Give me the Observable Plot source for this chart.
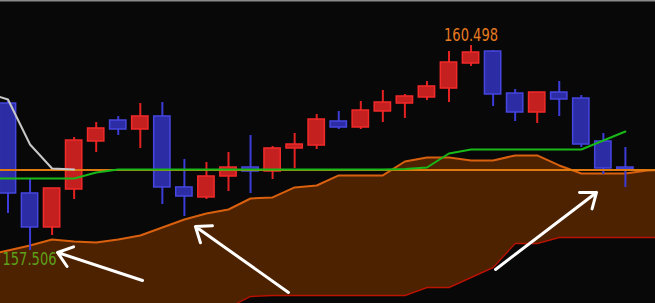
<!DOCTYPE html>
<html><head><meta charset="utf-8">
<script src="https://cdn.jsdelivr.net/npm/d3@7"></script>
<script src="https://cdn.jsdelivr.net/npm/@observablehq/plot@0.6"></script>
<style>html,body{margin:0;padding:0;background:#080808;overflow:hidden}</style>
</head><body><div id="chart"></div>
<script>
// Candles (periods 0..28)
const opens  = [159.651,158.338,157.842,158.396,159.097,159.403,159.272,159.462,158.426,158.280,158.586,158.717,158.659,158.995,159.038,159.389,159.301,159.535,159.651,159.739,159.870,160.235,160.410,159.797,159.520,159.812,159.724,159.097,158.717];
const highs  = [159.695,158.557,158.411,159.155,159.374,159.462,159.651,159.666,158.834,158.790,158.936,159.184,159.024,159.214,159.491,159.535,159.681,159.841,159.783,159.973,160.410,160.498,160.425,159.856,159.812,159.973,159.768,159.214,159.009];
const lows   = [158.046,157.506,157.725,158.250,158.936,159.184,158.995,158.177,158.002,158.250,158.367,158.338,158.542,158.703,158.980,159.272,159.272,159.374,159.433,159.695,159.666,160.192,159.608,159.389,159.360,159.462,159.009,158.615,158.426];
const closes = [158.338,157.842,158.411,159.111,159.287,159.272,159.462,158.426,158.294,158.586,158.717,158.659,158.995,159.053,159.418,159.301,159.549,159.666,159.754,159.900,160.250,160.396,159.783,159.520,159.812,159.710,159.053,158.703,158.688];

// Cloud (periods -1..30)
const cloudPeriods = [-1,0,1,2,3,4,5,6,7,8,9,10,11,12,13,14,15,16,17,18,19,20,21,22,23,24,25,26,27,28,29,30];
const senkouA = [157.433,157.506,157.579,157.667,157.637,157.623,157.667,157.725,157.842,157.958,158.046,158.104,158.265,158.280,158.426,158.455,158.601,158.601,158.601,158.805,158.863,158.863,158.820,158.820,158.893,158.893,158.747,158.630,158.630,158.630,158.674,158.688];
const senkouB = [156.550,156.550,156.550,156.550,156.550,156.550,156.550,156.550,156.550,156.550,156.550,156.674,156.835,156.849,156.849,156.849,156.849,156.849,156.849,156.849,156.966,156.966,157.112,157.258,157.608,157.608,157.696,157.696,157.696,157.696,157.696,157.696];

// Tenkan (green), periods -1..28
const tenkanPeriods = [-1,0,1,2,3,4,5,6,7,8,9,10,11,12,13,14,15,16,17,18,19,20,21,22,23,24,25,26,27,28];
const tenkan = [158.557,158.557,158.557,158.557,158.557,158.644,158.688,158.688,158.688,158.688,158.688,158.688,158.688,158.688,158.688,158.688,158.688,158.688,158.688,158.696,158.717,158.922,158.980,158.980,158.980,158.980,158.980,158.980,159.111,159.243];

// Kijun (orange, flat level)
const kijun = 158.681;

// Chikou (grey), periods -1..3
const chikouPeriods = [-1,0,1,2,3];
const chikou = [159.812,159.710,159.053,158.703,158.688];

// Annotation arrows (period, price)
const arrowFromX = [6.10, 12.72, 22.11];
const arrowFromY = [157.068, 156.893, 157.229];
const arrowToX   = [2.245, 8.50, 26.69];
const arrowToY   = [157.477, 157.856, 158.353];

const candles = opens.map((o, i) => ({i, open: o, high: highs[i], low: lows[i], close: closes[i], down: closes[i] < o}));
const cloud = cloudPeriods.map((p, k) => ({p, a: senkouA[k], b: senkouB[k]}));
const tk = tenkanPeriods.map((p, k) => ({p, v: tenkan[k]}));
const ck = chikouPeriods.map((p, k) => ({p, v: chikou[k]}));
const arrows = arrowFromX.map((x, k) => ({x1: x, y1: arrowFromY[k], x2: arrowToX[k], y2: arrowToY[k]}));
const hiI = d3.maxIndex(highs), loI = d3.minIndex(lows);
const labelFont = "'Liberation Sans Narrow','Arial Narrow','DejaVu Sans Condensed',sans-serif";

const chart = Plot.plot({
  width: 655, height: 303, margin: 0,
  x: {type: "linear", domain: [-0.34, 29.365], axis: null},
  y: {domain: [156.732, 161.155], axis: null},
  style: {background: "#080808", overflow: "hidden"},
  marks: [
    Plot.areaY(cloud, {x: "p", y1: "b", y2: "a", fill: "#4d2200", clip: true}),
    Plot.lineY(cloud, {x: "p", y: "b", stroke: "#b81400", strokeWidth: 1.5, clip: true}),
    Plot.lineY(cloud, {x: "p", y: "a", stroke: "#d8600e", strokeWidth: 2, clip: true}),
    Plot.ruleX(candles, {x: "i", y1: "low", y2: "high", stroke: d => d.down ? "#3c3cd8" : "#e52222", strokeWidth: 2}),
    Plot.rect(candles, {x1: d => d.i - 0.37, x2: d => d.i + 0.37, y1: "open", y2: "close",
      fill: d => d.down ? "#2c2ca4" : "#c42020", stroke: d => d.down ? "#4646e0" : "#f22a2a", strokeWidth: 1.5}),
    Plot.ruleY([kijun], {stroke: "#e07a10", strokeWidth: 2}),
    Plot.lineY(tk, {x: "p", y: "v", stroke: "#19b819", strokeWidth: 2, clip: true}),
    Plot.lineY(ck, {x: "p", y: "v", stroke: "#c8c8c8", strokeWidth: 2, clip: true}),
    Plot.arrow(arrows, {x1: "x1", y1: "y1", x2: "x2", y2: "y2", stroke: "white", strokeWidth: 3, headLength: 8.5, headAngle: 75}),
    Plot.text([{i: hiI, v: highs[hiI]}], {x: "i", y: "v", text: d => d.v.toFixed(3), dy: -10, fill: "#e87a20",
      fontSize: 18, fontFamily: labelFont, lineAnchor: "middle", textAnchor: "middle", className: "pricelabel"}),
    Plot.text([{v: lows[loI]}], {frameAnchor: "left", y: "v", text: d => d.v.toFixed(3), dx: 2, dy: 9, fill: "#5da01a",
      fontSize: 18, fontFamily: labelFont, lineAnchor: "middle", textAnchor: "start", className: "pricelabel"}),
    Plot.frame({anchor: "top", stroke: "#8a8a8a", strokeWidth: 2})
  ]
});
document.getElementById("chart").appendChild(chart);
// condense price labels to the narrow look of the original
d3.select(chart).selectAll("g.pricelabel text")
  .attr("textLength", 54).attr("lengthAdjust", "spacingAndGlyphs");
</script>
</body></html>
